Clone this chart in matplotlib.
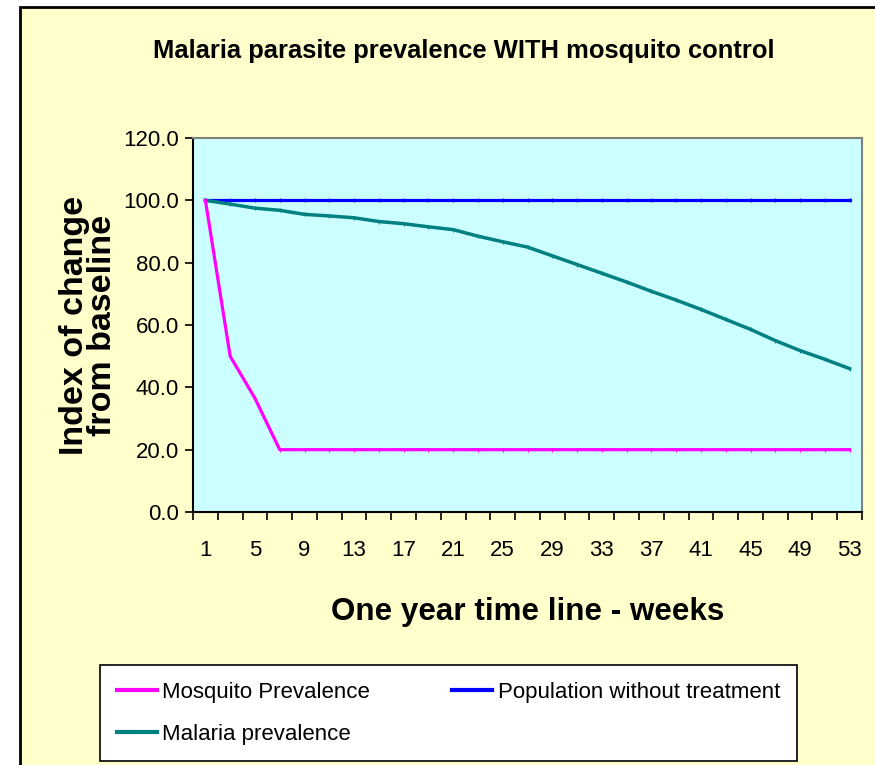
import matplotlib
matplotlib.use("Agg")
import matplotlib.pyplot as plt
from matplotlib.patches import Rectangle
from matplotlib.ticker import FixedLocator, NullFormatter, FixedFormatter

plt.rcParams['font.family'] = ['Liberation Sans', 'DejaVu Sans']

# weeks shown on the category axis (every second week)
weeks = [1, 3, 5, 7, 9, 11, 13, 15, 17, 19, 21, 23, 25, 27, 29, 31, 33, 35, 37, 39, 41, 43, 45, 47, 49, 51, 53]
mosquito = [100, 50, 36.5, 20, 20, 20, 20, 20, 20, 20, 20, 20, 20, 20, 20, 20, 20, 20, 20, 20, 20, 20, 20, 20, 20, 20, 20]
population = [100] * 27
malaria = [100, 98.8, 97.5, 96.8, 95.5, 95.0, 94.4, 93.2, 92.5, 91.5, 90.6, 88.5, 86.7, 85.0,
           82.2, 79.4, 76.6, 73.8, 70.8, 68.0, 65.0, 61.8, 58.6, 55.0, 51.8, 49.0, 46.0]
yticks = [0, 20, 40, 60, 80, 100, 120]

W, H = 875, 765
fig = plt.figure(figsize=(W / 100, H / 100), dpi=100)
fig.patch.set_facecolor('white')

# chart area background (yellow with black border at left/top)
bg = Rectangle((20 / W, -0.05), 1.1, 1 - 7 / H + 0.05, transform=fig.transFigure,
               facecolor='#FFFFCC', edgecolor='black', linewidth=2, zorder=-10)
fig.patches.append(bg)

ax = fig.add_axes([193 / W, 1 - 512 / H, 669 / W, 374 / H])
ax.set_facecolor('#CCFFFF')

x = list(range(len(weeks)))
ax.plot(x, population, color='#0000FF', lw=2.3, marker='|', ms=3, mew=0.8, label='Population without treatment')
ax.plot(x, malaria, color='#008080', lw=2.5, marker='|', ms=3, mew=0.8, label='Malaria prevalence')
ax.plot(x, mosquito, color='#FF00FF', lw=2.3, marker='|', ms=3, mew=0.8, label='Mosquito Prevalence')

ax.set_xlim(-0.5, len(weeks) - 0.5)
ax.set_ylim(0, 120)

ax.yaxis.set_major_locator(FixedLocator(yticks))
ax.set_yticklabels([f'{v:.1f}' for v in yticks])
ax.tick_params(axis='y', direction='out', length=6, width=1.2, labelsize=16, pad=4)

# tick marks between categories, labels every 4 weeks
ax.xaxis.set_major_locator(FixedLocator([i - 0.5 for i in range(len(weeks) + 1)]))
ax.xaxis.set_major_formatter(NullFormatter())
ax.xaxis.set_minor_locator(FixedLocator(x[::2]))
ax.xaxis.set_minor_formatter(FixedFormatter([str(w) for w in weeks[::2]]))
ax.tick_params(axis='x', which='major', direction='out', length=6, width=1.2)
ax.tick_params(axis='x', which='minor', length=0, labelsize=16, pad=20)

for s in ['left', 'bottom']:
    ax.spines[s].set_color('black')
    ax.spines[s].set_linewidth(1.5)
for s in ['top', 'right']:
    ax.spines[s].set_color('#808080')
    ax.spines[s].set_linewidth(1.5)

fig.text(464 / W, 1 - 51 / H, 'Malaria parasite prevalence WITH mosquito control',
         ha='center', va='center', fontsize=18.4, fontweight='bold')
ax.set_ylabel('Index of change\nfrom baseline', fontsize=24.5, fontweight='bold', labelpad=4,
              linespacing=0.85)
ax.set_xlabel('One year time line - weeks', fontsize=22.6, fontweight='bold', labelpad=26)

h, l = ax.get_legend_handles_labels()
order = [2, 1, 0]
leg = fig.legend([h[i] for i in order], [l[i] for i in order], ncol=2,
                 loc='upper left', bbox_to_anchor=(100 / W, 1 - 665 / H),
                 frameon=True, fancybox=False, edgecolor='black', facecolor='white',
                 framealpha=1, fontsize=16,
                 handlelength=1.8, handletextpad=0.25, columnspacing=3.7,
                 borderpad=0.75, labelspacing=0.95, borderaxespad=0)
leg.get_frame().set_linewidth(1.2)
for ln in leg.get_lines():
    ln.set_marker('')
    ln.set_linewidth(3)

fig.savefig('out.png', dpi=100)
